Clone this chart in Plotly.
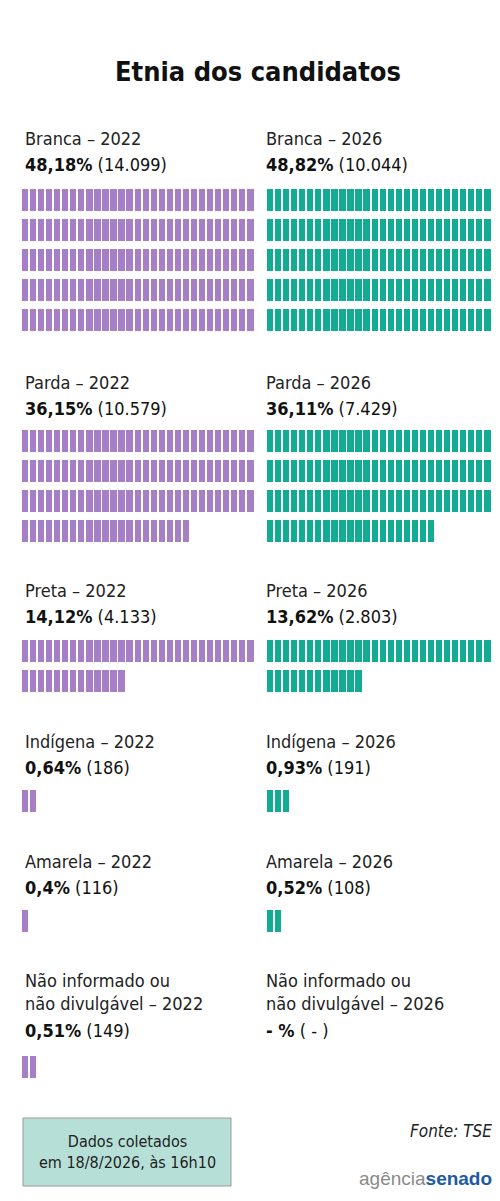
import plotly.graph_objects as go

# data
categories = ["Branca", "Parda", "Preta", "Indígena", "Amarela", "Não informado ou<br>não divulgável"]
pct_2022 = [48.18, 36.15, 14.12, 0.64, 0.40, 0.51]
num_2022 = ["14.099", "10.579", "4.133", "186", "116", "149"]
pct_2026 = [48.82, 36.11, 13.62, 0.93, 0.52, None]
num_2026 = ["10.044", "7.429", "2.803", "191", "108", None]

PURPLE = "#a77fc6"
TEAL = "#12ab94"
FONT = "DejaVu Sans Condensed, Roboto, sans-serif"
PER_ROW = 29
MAX_ROWS = 5
PITCH = 8.05
ROW_H = 30

# vertical layout of each block: label top line y, bars top y
label_y = [130, 374, 582, 733, 853, 972]
bars_y = [181, 422, 632, 782, 902, 1048]
cols = [(15, "2022", pct_2022, num_2022, PURPLE), (256, "2026", pct_2026, num_2026, TEAL)]

fig = go.Figure()
ann = []

for x0, year, pcts, nums, color in cols:
    xs, bases = [], []
    for k, cat in enumerate(categories):
        p = pcts[k]
        nlines = cat.count("<br>") + 1
        ann.append(dict(x=x0, y=label_y[k] + 12 * (nlines - 1), text=f"{cat} – {year}",
                        xanchor="left", yanchor="middle", align="left",
                        font=dict(size=18, color="#222")))
        vy = label_y[k] + 26 + (nlines - 1) * 24
        vtxt = f"<b>{str(p).replace('.', ',')}%</b> ({nums[k]})" if p is not None else "<b>- %</b> ( - )"
        ann.append(dict(x=x0, y=vy, text=vtxt, xanchor="left", yanchor="middle",
                        font=dict(size=18, color="#111")))
        if p is None:
            continue
        n = min(round(p * 3), PER_ROW * MAX_ROWS)  # one bar per 1/3 percentage point
        for i in range(n):
            xs.append(x0 + 4 + PITCH * (i % PER_ROW))
            bases.append(bars_y[k] + ROW_H * (i // PER_ROW))
    fig.add_trace(go.Bar(x=xs, y=[22] * len(xs), base=bases, width=6.3,
                         marker=dict(color=color, line=dict(width=0)), hoverinfo="skip"))

ann += [
    dict(x=250, y=63, text="<b>Etnia dos candidatos</b>", xanchor="center", yanchor="middle",
         font=dict(size=27, color="#111")),
    dict(x=119, y=1144, text="Dados coletados<br>em 18/8/2026, às 16h10", xanchor="center", yanchor="middle",
         font=dict(size=16, color="#222")),
    dict(x=486, y=1123, text="<i>Fonte: TSE</i>", xanchor="right", yanchor="middle",
         font=dict(size=17, color="#222")),
    dict(x=486, y=1170, text="<span style='color:#8a8a8a'>agência</span><b style='color:#1e5aa8'>senado</b>",
         xanchor="right", yanchor="middle", font=dict(size=19, family="Liberation Sans, sans-serif")),
]
for a in ann:
    a.update(xref="x", yref="y", showarrow=False)
    a["font"].setdefault("family", FONT)

fig.update_layout(
    width=500, height=1201, margin=dict(l=0, r=0, t=0, b=0, autoexpand=False),
    paper_bgcolor="white", plot_bgcolor="white", showlegend=False, bargap=0,
    xaxis=dict(range=[0, 500], visible=False, fixedrange=True, automargin=False),
    yaxis=dict(range=[1201, 0], visible=False, fixedrange=True, automargin=False),
    annotations=ann,
    shapes=[dict(type="rect", xref="x", yref="y", x0=15, x1=223, y0=1110, y1=1178,
                 fillcolor="#b6e0d7", line=dict(color="#9a9a9a", width=1), layer="below")],
)
fig.write_html("out.html")
